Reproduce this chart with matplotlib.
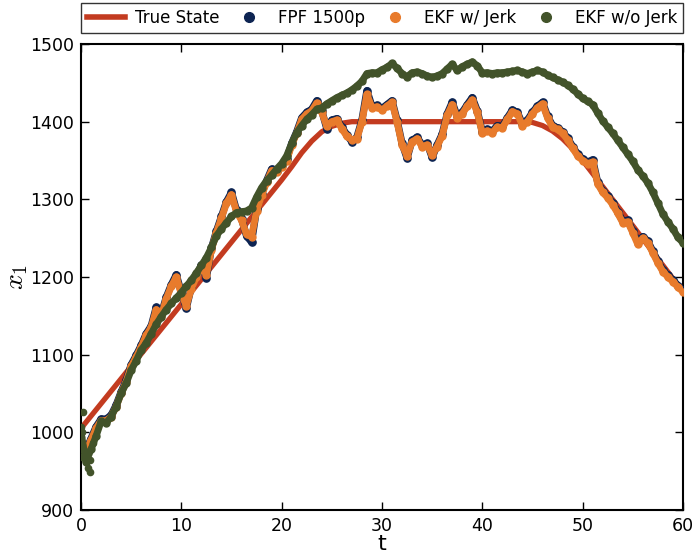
import numpy as np
import matplotlib
matplotlib.use("Agg")
import matplotlib.pyplot as plt
from matplotlib.lines import Line2D

# ---------------- data ----------------
t_est = np.arange(0, 60.01, 0.5)

t_true = [0, 20, 21, 22, 23, 24, 25, 26, 27, 44, 45, 46, 47, 48, 49, 50, 55, 60]
true_state = [1005, 1325, 1342, 1360, 1375, 1387, 1394, 1398, 1400, 1400, 1399, 1395,
              1388, 1378, 1365, 1350, 1266, 1181]

ekf_jerk = [985, 975, 990, 1005, 1015, 1015, 1020, 1033, 1050, 1065,
            1085, 1097, 1110, 1125, 1135, 1158, 1150, 1172, 1188, 1200,
            1178, 1163, 1185, 1200, 1213, 1203, 1235, 1257, 1276, 1295,
            1306, 1284, 1273, 1255, 1252, 1285, 1305, 1322, 1337, 1335,
            1342, 1350, 1370, 1385, 1403, 1410, 1414, 1424, 1412, 1394,
            1400, 1402, 1391, 1381, 1377, 1378, 1400, 1435, 1418, 1419,
            1415, 1420, 1425, 1400, 1370, 1356, 1374, 1378, 1368, 1370,
            1357, 1368, 1382, 1408, 1422, 1405, 1410, 1420, 1428, 1412,
            1385, 1388, 1386, 1393, 1392, 1403, 1413, 1410, 1395, 1400,
            1410, 1418, 1423, 1405, 1393, 1390, 1385, 1377, 1366, 1356,
            1350, 1346, 1348, 1320, 1309, 1302, 1293, 1282, 1270, 1271,
            1257, 1242, 1250, 1244, 1231, 1218, 1207, 1200, 1194, 1187,
            1181]

fpf = [987, 977, 992, 1007, 1017, 1017, 1022, 1035, 1052, 1067,
       1087, 1099, 1112, 1127, 1137, 1161, 1152, 1174, 1190, 1203,
       1180, 1160, 1187, 1202, 1215, 1199, 1237, 1259, 1278, 1297,
       1309, 1286, 1275, 1253, 1245, 1287, 1307, 1324, 1339, 1337,
       1344, 1352, 1372, 1387, 1405, 1412, 1416, 1427, 1414, 1391,
       1402, 1404, 1393, 1383, 1374, 1380, 1402, 1440, 1420, 1421,
       1417, 1422, 1427, 1402, 1372, 1353, 1376, 1380, 1370, 1372,
       1354, 1370, 1384, 1410, 1425, 1407, 1412, 1422, 1431, 1414,
       1387, 1390, 1388, 1395, 1394, 1405, 1415, 1412, 1397, 1402,
       1412, 1420, 1425, 1407, 1395, 1392, 1387, 1379, 1368, 1358,
       1352, 1348, 1351, 1322, 1311, 1304, 1295, 1284, 1272, 1273,
       1259, 1245, 1252, 1246, 1233, 1220, 1209, 1202, 1196, 1189,
       1183]

ekf_nojerk = [1000, 962, 978, 995, 1014, 1012, 1020, 1033, 1050, 1063,
              1080, 1092, 1106, 1115, 1127, 1139, 1149, 1158, 1166, 1173,
              1180, 1188, 1196, 1205, 1215, 1225, 1238, 1253, 1262, 1270,
              1278, 1283, 1284, 1285, 1289, 1303, 1315, 1324, 1331, 1339,
              1346, 1356, 1372, 1386, 1395, 1403, 1409, 1416, 1418, 1423,
              1427, 1431, 1434, 1437, 1441, 1446, 1452, 1462, 1463, 1463,
              1467, 1470, 1475, 1469, 1462, 1458, 1463, 1464, 1462, 1459,
              1457, 1459, 1462, 1468, 1474, 1466, 1471, 1474, 1477, 1472,
              1463, 1463, 1462, 1463, 1463, 1464, 1465, 1466, 1464, 1462,
              1464, 1466, 1464, 1460, 1457, 1454, 1451, 1447, 1442, 1436,
              1430, 1426, 1422, 1411, 1401, 1393, 1385, 1376, 1367, 1358,
              1349, 1338, 1330, 1321, 1309, 1295, 1281, 1271, 1262, 1251,
              1244]

t_nojerk_early = [0.03, 0.05, 0.2, 0.1, 0.15, 0.1, 0.7, 0.87, 0.85, 1.2]
nojerk_early = [1007, 994, 1026, 984, 968, 1000, 954, 964, 949, 986]

labels = ["True State", "FPF 1500p", "EKF w/ Jerk", "EKF w/o Jerk"]
x_ticks = [0, 10, 20, 30, 40, 50, 60]
y_ticks = [900, 1000, 1100, 1200, 1300, 1400, 1500]

# ---------------- style ----------------
c_true = "#c33b20"
c_fpf = "#0d2452"
c_jerk = "#e87b2c"
c_nojerk = "#42532a"

plt.rcParams["font.family"] = ["DejaVu Sans"]
plt.rcParams["mathtext.fontset"] = "cm"
fig = plt.figure(figsize=(6.94, 5.55), dpi=100)
ax = fig.add_axes([0.1167, 0.0811, 0.8674, 0.8396])

ax.plot(t_true, true_state, color=c_true, lw=3.8, solid_capstyle="butt", zorder=2)
ax.plot(t_est, fpf, color=c_fpf, lw=5.2, marker="o", ms=5.2,
        solid_joinstyle="round", solid_capstyle="round", zorder=3)
ax.plot(t_est, ekf_jerk, color=c_jerk, lw=5.0, marker="o", ms=5,
        solid_joinstyle="round", solid_capstyle="round", zorder=4)
ax.plot(t_est, ekf_nojerk, color=c_nojerk, lw=5.0, marker="o", ms=5,
        solid_joinstyle="round", solid_capstyle="round", zorder=5)
ax.plot(t_nojerk_early, nojerk_early, ls="none", marker="o", ms=4.5,
        color=c_nojerk, zorder=5)

ax.set_xlim(0, 60)
ax.set_ylim(900, 1500)
ax.set_xticks(x_ticks)
ax.set_yticks(y_ticks)
ax.tick_params(direction="in", length=6, width=1, labelsize=12.5,
               top=True, right=True, pad=5)
for s in ax.spines.values():
    s.set_linewidth(1.5)

ax.set_xlabel("t", fontsize=16, labelpad=-1)
ax.set_ylabel("$x_1$", fontsize=20, labelpad=0)

handles = [
    Line2D([], [], color=c_true, lw=4),
    Line2D([], [], ls="none", marker="o", ms=7, color=c_fpf),
    Line2D([], [], ls="none", marker="o", ms=7, color=c_jerk),
    Line2D([], [], ls="none", marker="o", ms=7, color=c_nojerk),
]
leg = ax.legend(handles, labels, loc="lower left", bbox_to_anchor=(0, 1.0236, 1, 0.058),
                mode="expand", ncol=4, frameon=True, fancybox=False, edgecolor="black",
                borderaxespad=0, handlelength=2.3, fontsize=12, borderpad=0.35,
                handletextpad=0.6)
leg.get_frame().set_linewidth(1.0)

fig.savefig("out.png", dpi=100)
